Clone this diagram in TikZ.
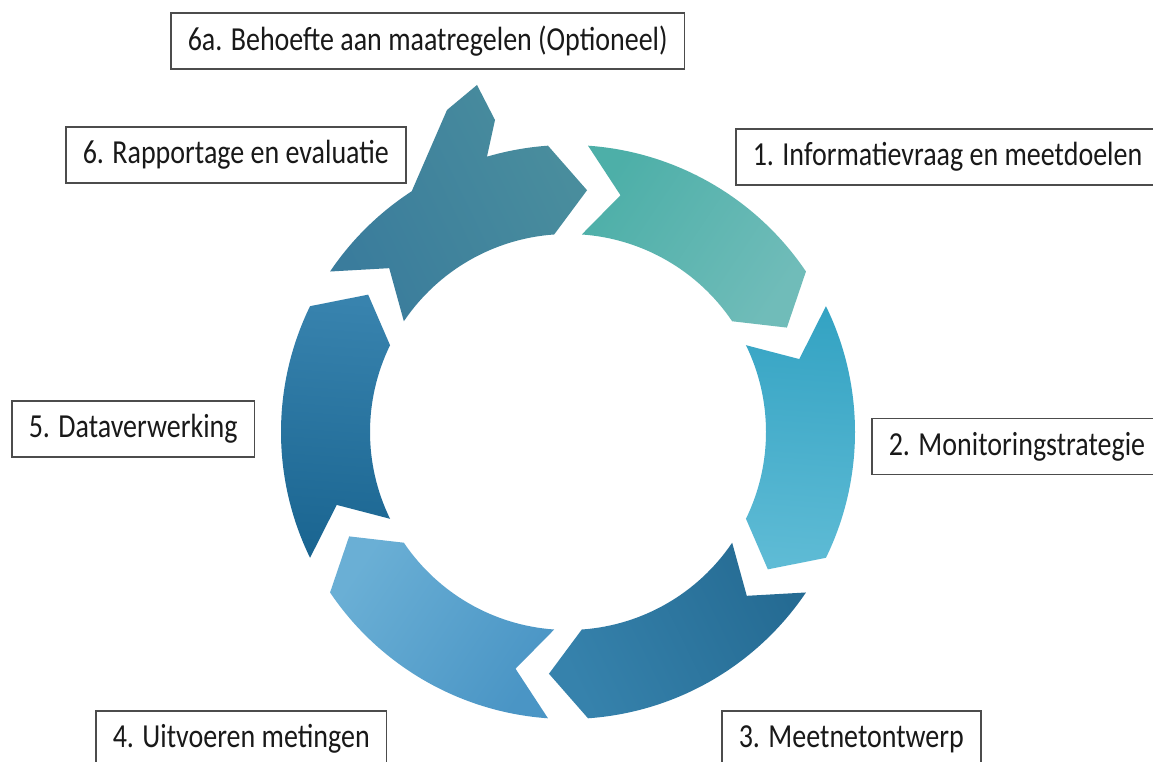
\documentclass[tikz,border=0pt]{standalone}
\usepackage{fontspec}
\setmainfont{Carlito}
\usepackage{tikz}

\definecolor{c1a}{HTML}{4DAFA8}
\definecolor{c1b}{HTML}{70BCB9}
\definecolor{c2a}{HTML}{34A3C3}
\definecolor{c2b}{HTML}{5EBBD5}
\definecolor{c3a}{HTML}{256B93}
\definecolor{c3b}{HTML}{3682AC}
\definecolor{c4a}{HTML}{4A95C5}
\definecolor{c4b}{HTML}{6AAFD5}
\definecolor{c5a}{HTML}{1A6591}
\definecolor{c5b}{HTML}{3883AE}
\definecolor{c6a}{HTML}{3A7C9C}
\definecolor{c6b}{HTML}{4A8E9D}

\begin{document}
\begin{tikzpicture}[
  x=1pt, y=1pt,
  every node/.style={font=\fontsize{28}{30}\selectfont},
  lbl/.style={draw=black!70,line width=1.5pt,fill=white,text=black!90,
    anchor=west,inner xsep=17pt,minimum height=46.7pt,yscale=1.2,transform shape}
]
  \clip (0,0) rectangle (1153,762);
  \fill[white] (0,0) rectangle (1153,762);

  % ring of chevron arrows, clockwise
  \begin{scope}[shift={(568,330)}]
    \foreach \a/\ca/\cb in {86/c1a/c1b, 26/c2a/c2b, -34/c3a/c3b, -94/c4a/c4b, -154/c5a/c5b}
      \shade[left color=\ca, right color=\cb, shading angle=\a-30]
        (\a:287) arc[start angle=\a, end angle=\a-52, radius=287]
        -- (\a-60.5:242.5) -- (\a-52:198)
        arc[start angle=\a-52, end angle=\a, radius=198]
        -- (\a-8.5:242.5) -- cycle;

    % step 6 with the branch up to 6a
    \shade[left color=c6a, right color=c6b, shading angle=116]
      (146:287) arc[start angle=146, end angle=123, radius=287]
      -- (-121,322) -- (-91,347) -- (-73,312) -- (106.4:287)
      arc[start angle=106.4, end angle=94, radius=287]
      -- (85.5:242.5) -- (94:198)
      arc[start angle=94, end angle=146, radius=198]
      -- (137.5:242.5) -- cycle;
  \end{scope}

  \node[lbl] (opt)  at (170,721) {6a. Behoefte aan maatregelen (Optioneel)};
  \node[lbl] (rap)  at (65,607) {6. Rapportage en evaluatie};
  \node[lbl] (info) at (735,605) {1. Informatievraag en meetdoelen};
  \node[lbl] (mon)  at (871,315.5) {2. Monitoringstrategie};
  \node[lbl] (data) at (11,333) {5. Dataverwerking};
  \node[lbl] (uitv) at (95,23) {4. Uitvoeren metingen};
  \node[lbl] (meet) at (721,23) {3. Meetnetontwerp};
\end{tikzpicture}
\end{document}
